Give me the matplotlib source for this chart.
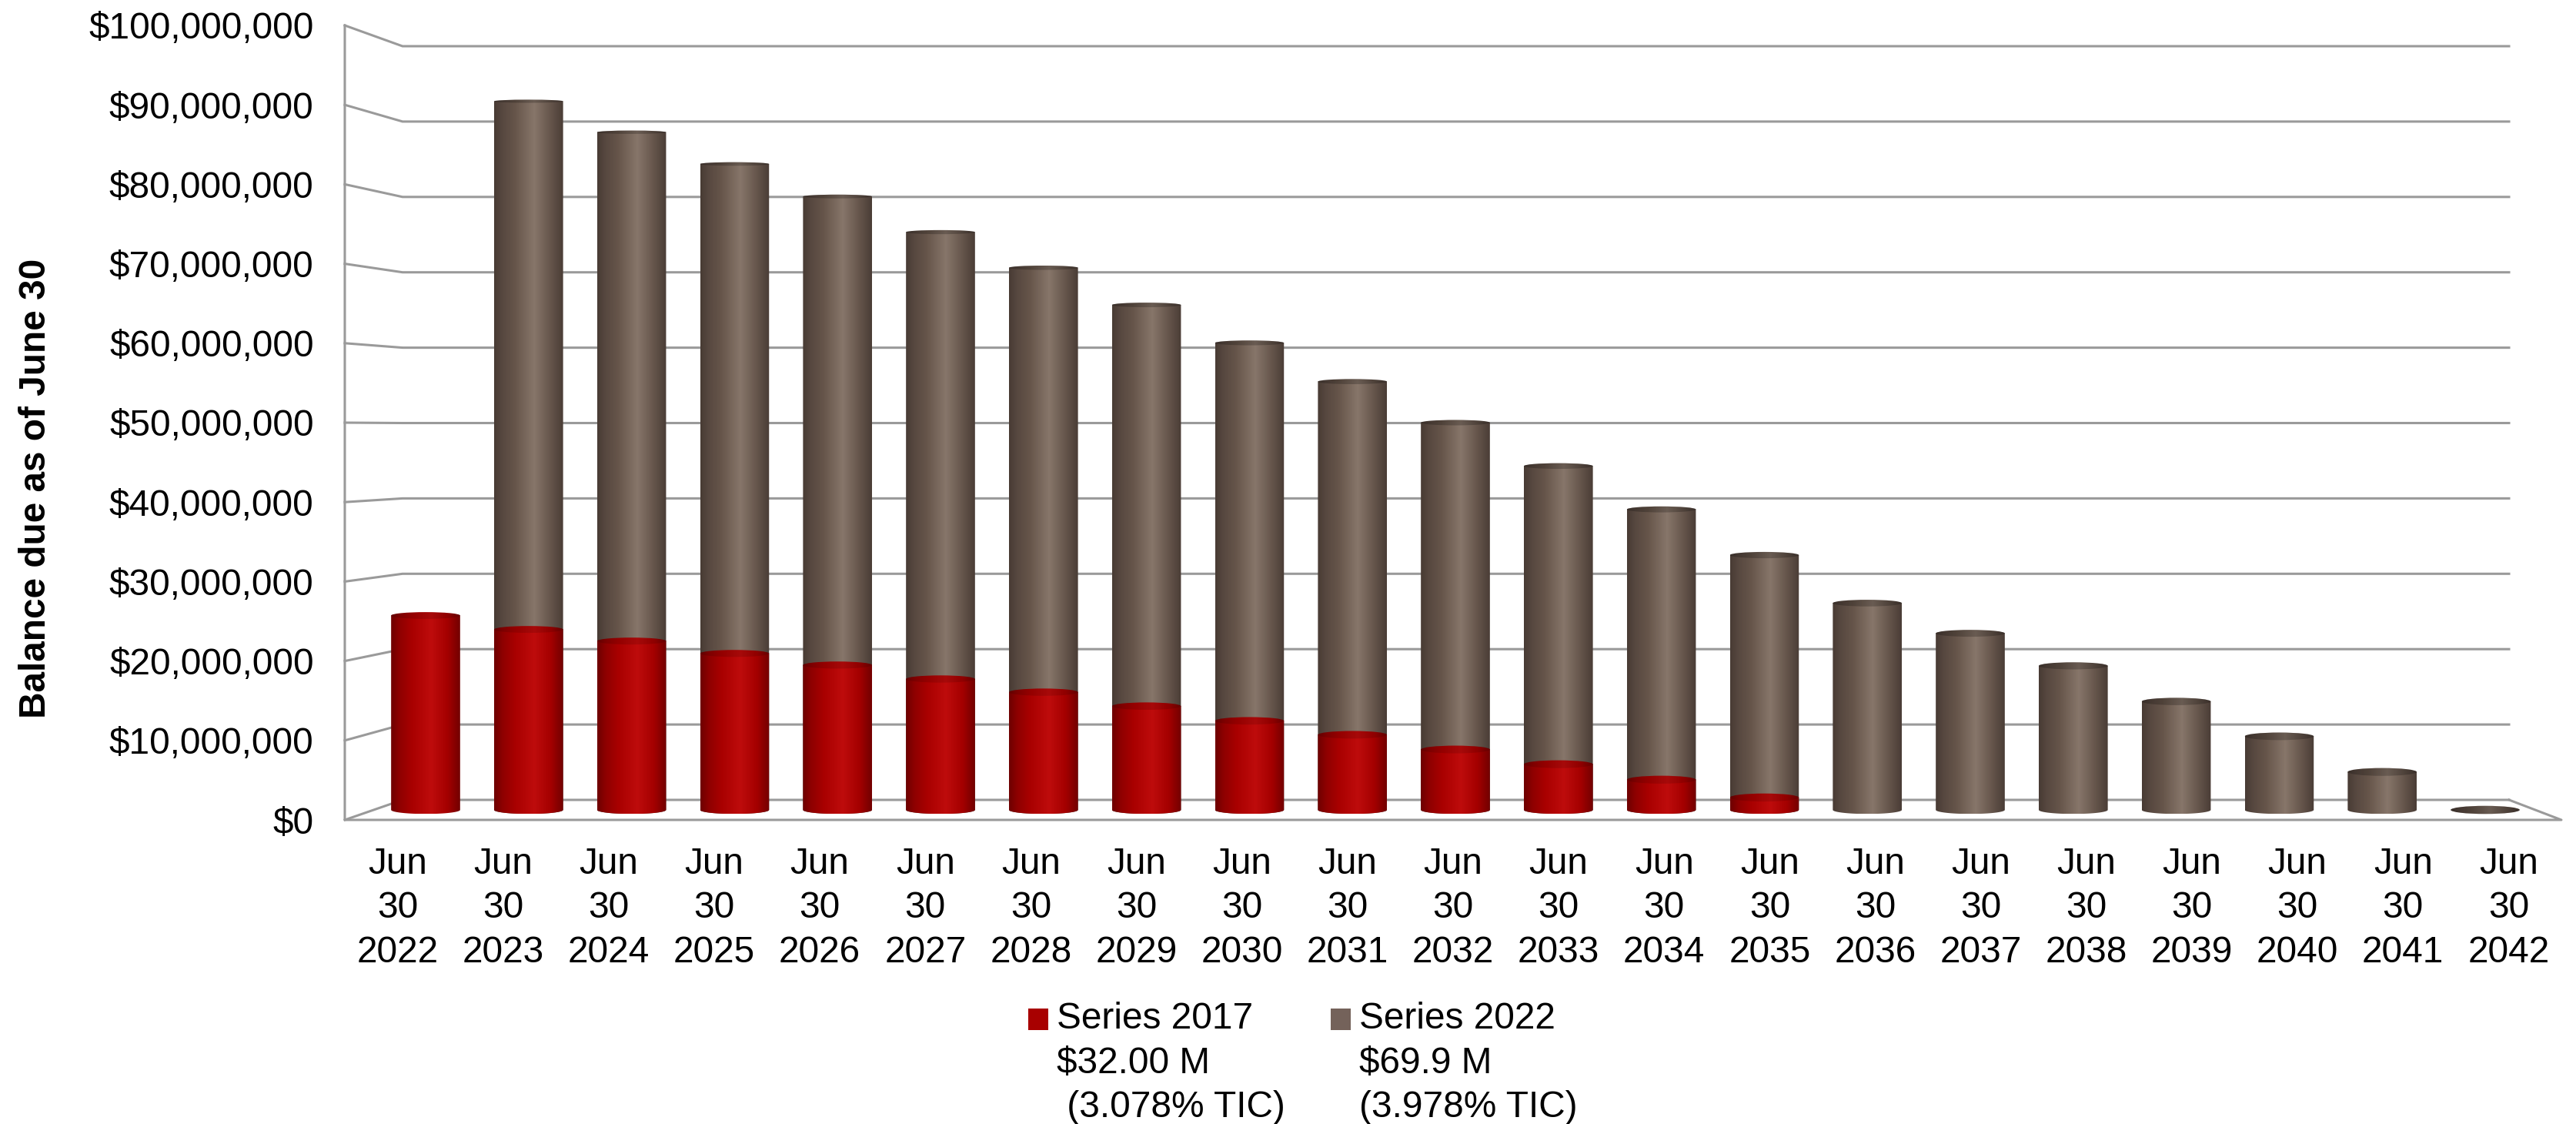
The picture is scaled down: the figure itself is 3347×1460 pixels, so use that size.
import numpy as np
import matplotlib
matplotlib.use('Agg')
import matplotlib.pyplot as plt
from matplotlib.colors import LinearSegmentedColormap
from matplotlib.legend_handler import HandlerPatch
from matplotlib.patches import Ellipse, Polygon, Patch, Rectangle
from matplotlib.ticker import FuncFormatter
from matplotlib.transforms import IdentityTransform

plt.rcParams['font.family'] = ['Liberation Sans', 'DejaVu Sans']

# Balance due as of June 30 (million dollars)
years = list(range(2022, 2043))
totals = [25.1, 91.5, 87.5, 83.4, 79.2, 74.6, 70.0, 65.2, 60.3, 55.3, 50.0,
          44.4, 38.8, 32.9, 26.7, 22.8, 18.6, 14.0, 9.5, 4.9, 0.0]
series_2017 = [25.1, 23.3, 21.8, 20.2, 18.7, 16.9, 15.2, 13.4, 11.5, 9.7, 7.8,
               5.9, 3.9, 1.6, 0, 0, 0, 0, 0, 0, 0]
y_ticks = list(range(0, 101, 10))
legend_labels = ['Series 2017\n$32.00 M\n (3.078% TIC)', 'Series 2022\n$69.9 M\n(3.978% TIC)']

W, H = 3347, 1460
fig = plt.figure(figsize=(W / 100, H / 100), dpi=100)


def px_axes(x0, top, x1, bottom):
    return fig.add_axes([x0 / W, 1 - bottom / H, (x1 - x0) / W, (bottom - top) / H])


k = 100 / 1006  # data units per pixel on the bar plane
bar_ylim = (-20 * k, 100)
bar_xlim = (-67 / 133.8, 20 + 67 / 133.8)

# three planes of the fake 3D box: front wall, back wall, plane of the bars
ax = px_axes(448, 33, 3328, 1065)
ax_back = px_axes(523, 60, 3260, 1039)
ax_bars = px_axes(553 - 67, 46, 3229 + 67, 1072)
for a in (ax, ax_back, ax_bars):
    a.patch.set_visible(False)
    a.set_ylim(0, 100)
    a.set_xlim(-0.5, 20.5)
ax_back.axis('off')
ax_bars.axis('off')
ax_bars.set_zorder(2)

for s in ax.spines.values():
    s.set_visible(False)
ax.set_xticks(range(len(years)))
ax.set_xticklabels(['Jun\n30\n%d' % y for y in years], fontsize=34.4, linespacing=1.36)
ax.set_yticks(y_ticks)
ax.yaxis.set_major_formatter(FuncFormatter(lambda v, p: '${:,.0f}'.format(v * 1e6)))
ax.tick_params(axis='y', length=0, pad=29, labelsize=34.4)
ax.tick_params(axis='x', length=0, pad=25)
ax.set_ylabel('Balance due as of June 30', fontsize=34.4, fontweight='bold')
ax.yaxis.set_label_coords((69 - 448) / 2880, (1065 - 634) / 1032)

# walls and grid, going through the front and back scales
line = dict(color='#9a9a9a', lw=2.2, transform=IdentityTransform(), clip_on=False,
            solid_capstyle='projecting', zorder=1)


def wall(points):
    pts = np.array(points)
    ax.plot(pts[:, 0], pts[:, 1], **line)


fig.canvas.draw()
for v in y_ticks:
    f = ax.transData.transform((-0.5, v))
    b0 = ax_back.transData.transform((-0.5, v))
    b1 = ax_back.transData.transform((20.5, v))
    wall([f, b0, b1])
wall([ax.transData.transform((-0.5, 100)), ax.transData.transform((-0.5, 0)),
      ax.transData.transform((20.5, 0)), ax_back.transData.transform((20.5, 0))])

red_cm = LinearSegmentedColormap.from_list('red', [(0, '#6e0000'), (0.12, '#8e0000'), (0.3, '#a80000'),
                                                   (0.58, '#be0c0c'), (0.82, '#a40000'), (1, '#720000')])
brown_cm = LinearSegmentedColormap.from_list('brown', [(0, '#483b34'), (0.12, '#574840'), (0.3, '#66554a'),
                                                       (0.58, '#87766a'), (0.82, '#65554b'), (1, '#4a3d36')])
grad = np.linspace(0, 1, 256).reshape(1, -1)
bar_w = 0.67


def cap_height(v):
    return (10.5 - 7 * v / 100) * k


def cylinder(x, top, cmap, shade, z):
    left, right = x - bar_w / 2, x + bar_w / 2
    rx = bar_w / 2
    low = cap_height(0) / 2
    if top > 0:
        t = np.linspace(np.pi, 2 * np.pi, 40)
        outline = [(left, top)] + list(zip(x + rx * np.cos(t), low * np.sin(t))) + [(right, top)]
        clip = Polygon(outline, closed=True, transform=ax_bars.transData, fc='none', ec='none')
        ax_bars.add_patch(clip)
        im = ax_bars.imshow(grad, cmap=cmap, extent=[left, right, -low, top], aspect='auto',
                            interpolation='bicubic', zorder=z)
        im.set_clip_path(clip)
    cap = Ellipse((x, top), bar_w, cap_height(top), fc='none', ec='none',
                  transform=ax_bars.transData)
    ax_bars.add_patch(cap)
    h = cap_height(top)
    im = ax_bars.imshow(grad, cmap=cmap, extent=[left, right, top - h, top + h], aspect='auto',
                        interpolation='bicubic', zorder=z + 0.1)
    im.set_clip_path(cap)
    ax_bars.add_patch(Ellipse((x, top), bar_w, cap_height(top), fc='black', ec='none',
                              alpha=shade, zorder=z + 0.2))


for i, (tot, red) in enumerate(zip(totals, series_2017)):
    if tot > red or tot == 0:
        cylinder(i, tot, brown_cm, 0.22, 3)
    if red > 0:
        cylinder(i, red, red_cm, 0.12, 4)

ax_bars.set_xlim(*bar_xlim)
ax_bars.set_ylim(*bar_ylim)


def first_line_patch(legend, orig_handle, xdescent, ydescent, width, height, fontsize):
    # multi-line labels centre the handle; move it up to the first line
    return Rectangle((0, 43.6), width, height)


handles = [Patch(fc='#a80000', ec='none'), Patch(fc='#74625a', ec='none')]
leg = fig.legend(handles, legend_labels, ncol=2, frameon=False, fontsize=34.4,
                 loc='upper left', bbox_to_anchor=(1336 / W, 1 - 1301 / H),
                 borderaxespad=0, borderpad=0, handlelength=0.54, handleheight=0.52,
                 handletextpad=0.23, columnspacing=1.25, labelspacing=0,
                 handler_map={Patch: HandlerPatch(patch_func=first_line_patch)})
for t in leg.get_texts():
    t.set_linespacing(1.36)

fig.savefig('out.png', dpi=100, facecolor='white')
